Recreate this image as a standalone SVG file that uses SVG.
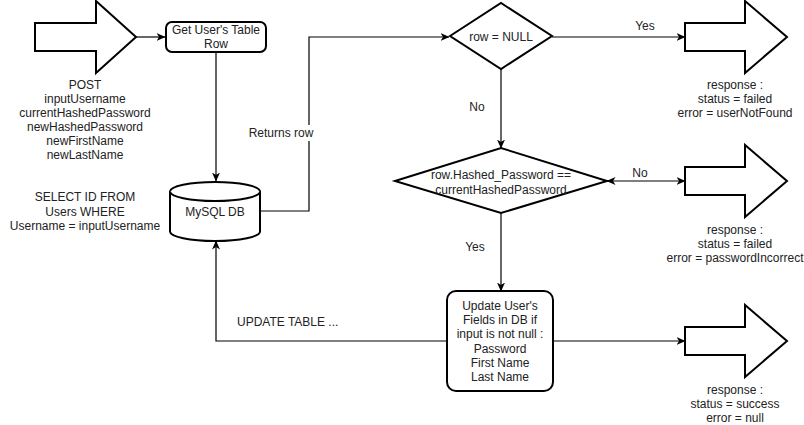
<svg xmlns="http://www.w3.org/2000/svg" width="804" height="425" viewBox="0 0 804 425">
<defs>
<style>
.s{fill:#fff;stroke:#000;stroke-width:2}
.c{fill:none;stroke:#000;stroke-width:1.2}
text{font-family:"Liberation Sans",Arial,sans-serif;font-size:12px;fill:#222}
.m{text-anchor:middle}
</style>
<marker id="a" viewBox="0 0 9 8" refX="8.5" refY="4" markerWidth="9" markerHeight="8" markerUnits="userSpaceOnUse" orient="auto-start-reverse">
<path d="M0,0 L9,4 L0,8 L2.5,4 z" fill="#000"/>
</marker>
</defs>
<rect width="804" height="425" fill="#fff"/>

<g id="connectors">
<path class="c" d="M136,37 H165" marker-end="url(#a)"/>
<path class="c" d="M216,52 V181" marker-end="url(#a)"/>
<path class="c" d="M260,211 H309 V37 H449" marker-end="url(#a)"/>
<path class="c" d="M552,37 H685" marker-end="url(#a)"/>
<path class="c" d="M501,69 V148" marker-end="url(#a)"/>
<path class="c" d="M607,181 H685" marker-start="url(#a)" marker-end="url(#a)"/>
<path class="c" d="M501,213 V291" marker-end="url(#a)"/>
<path class="c" d="M447,341 H216 V241" marker-end="url(#a)"/>
<path class="c" d="M553,341 H685" marker-end="url(#a)"/>
<rect x="248" y="125" width="66" height="16" fill="#fff"/>
<text x="281" y="137" class="m">Returns row</text>
<text x="645" y="30" class="m">Yes</text>
<text x="477" y="111" class="m">No</text>
<text x="640" y="177" class="m">No</text>
<text x="475" y="251" class="m">Yes</text>
<text x="237" y="326">UPDATE TABLE ...</text>
</g>

<g id="input">
<polygon class="s" points="35,23 96,23 96,1 136,37 96,73 96,51 35,51"/>
<text class="m" x="85" y="89">POST</text>
<text class="m" x="85" y="103">inputUsername</text>
<text class="m" x="85" y="117">currentHashedPassword</text>
<text class="m" x="85" y="131">newHashedPassword</text>
<text class="m" x="85" y="145">newFirstName</text>
<text class="m" x="85" y="159">newLastName</text>
</g>

<g id="getRow">
<rect class="s" x="166" y="22" width="100" height="30" rx="6"/>
<text class="m" x="216" y="34">Get User's Table</text>
<text class="m" x="216" y="48">Row</text>
</g>

<g id="selectLabel">
<text class="m" x="85" y="201">SELECT ID FROM</text>
<text class="m" x="85" y="216">Users WHERE</text>
<text class="m" x="85" y="230">Username = inputUsername</text>
</g>

<g id="db">
<path class="s" d="M170,191.5 a45,9.5 0 0,1 90,0 v40 a45,9.5 0 0,1 -90,0 z"/>
<path class="s" fill="none" d="M170,191.5 a45,9.5 0 0,0 90,0"/>
<text class="m" x="215" y="216">MySQL DB</text>
</g>

<g id="rowNull">
<polygon class="s" points="450,36 501,3 552,36 501,69"/>
<text class="m" x="501" y="41">row = NULL</text>
</g>

<g id="notFound">
<polygon class="s" points="685,23 745,23 745,1 787,37 745,73 745,51 685,51"/>
<text class="m" x="735" y="89">response :</text>
<text class="m" x="735" y="103">status = failed</text>
<text class="m" x="735" y="117">error = userNotFound</text>
</g>

<g id="pwCheck">
<polygon class="s" points="395,181 501,148 607,181 501,213"/>
<text class="m" x="501" y="179">row.Hashed_Password ==</text>
<text class="m" x="501" y="194">currentHashedPassword</text>
</g>

<g id="pwIncorrect">
<polygon class="s" points="685,167 745,167 745,145 787,181 745,217 745,195 685,195"/>
<text class="m" x="735" y="234">response :</text>
<text class="m" x="735" y="248">status = failed</text>
<text class="m" x="735" y="262">error = passwordIncorrect</text>
</g>

<g id="update">
<rect class="s" x="447" y="291" width="106" height="100" rx="9"/>
<text class="m" x="500" y="310">Update User's</text>
<text class="m" x="500" y="324">Fields in DB if</text>
<text class="m" x="500" y="338">input is not null :</text>
<text class="m" x="500" y="353">Password</text>
<text class="m" x="500" y="367">First Name</text>
<text class="m" x="500" y="381">Last Name</text>
</g>

<g id="success">
<polygon class="s" points="685,327 745,327 745,305 787,341 745,377 745,355 685,355"/>
<text class="m" x="735" y="394">response :</text>
<text class="m" x="735" y="408">status = success</text>
<text class="m" x="735" y="422">error = null</text>
</g>
</svg>
